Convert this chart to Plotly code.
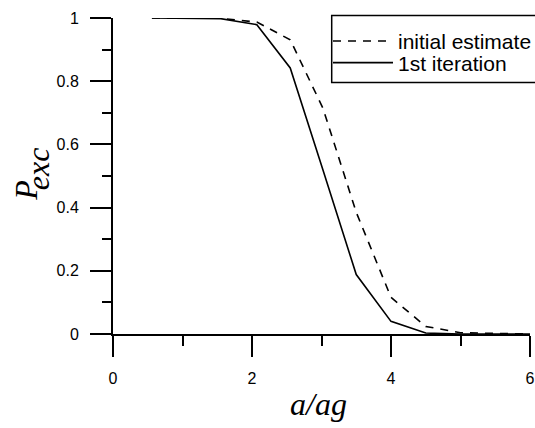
import plotly.graph_objects as go

# a/ag values
x_vals = [0.56, 1.05, 1.55, 2.07, 2.55, 3.02, 3.5, 4.0, 4.5, 5.0, 5.5, 6.0]
# P_exc, initial estimate (dashed)
initial_estimate = [1.0, 1.0, 0.999, 0.987, 0.931, 0.715, 0.385, 0.116, 0.024, 0.004, 0.001, 0.0]
# P_exc, 1st iteration (solid)
first_iteration = [1.0, 1.0, 0.998, 0.979, 0.842, 0.52, 0.188, 0.040, 0.003, 0.0, 0.0, 0.0]

series_names = ["initial estimate", "1st iteration"]
x_ticks = [0, 2, 4, 6]
y_ticks = [0, 0.2, 0.4, 0.6, 0.8, 1]
y_tick_labels = ["0", "0.2", "0.4", "0.6", "0.8", "1"]

fig = go.Figure()
fig.add_trace(go.Scatter(x=x_vals, y=initial_estimate, mode="lines", name=series_names[0],
                         line=dict(color="black", width=1.6, dash="8px,7px"), legend="legend"))
fig.add_trace(go.Scatter(x=x_vals, y=first_iteration, mode="lines", name=series_names[1],
                         line=dict(color="black", width=1.6), legend="legend2"))

axis_common = dict(showline=True, linecolor="black", linewidth=2, ticks="outside",
                   tickcolor="black", tickwidth=2, ticklen=21, showgrid=False, zeroline=False,
                   ticklabeloverflow="allow",
                   tickfont=dict(family="Liberation Sans, Arial", size=16, color="black"))

fig.update_xaxes(range=[0, 6], tickvals=x_ticks, ticklabelstandoff=8,
                 minor=dict(dtick=1, ticklen=10, tickwidth=2, tickcolor="black", ticks="outside"),
                 **axis_common)
fig.update_yaxes(range=[0, 1], tickvals=y_ticks, ticktext=y_tick_labels, ticklabelstandoff=8,
                 minor=dict(dtick=0.1, ticklen=9, tickwidth=2, tickcolor="black", ticks="outside"),
                 **axis_common)

W, H = 535, 428
plot_left, plot_right, plot_top, plot_bottom = 113, 530, 18.3, 334.3
L, R, T, B = plot_left, W - plot_right, plot_top, H - plot_bottom
pw, ph = plot_right - plot_left, plot_bottom - plot_top

def px_x(p):
    return (p - plot_left) / pw

def px_y(p):
    return (plot_bottom - p) / ph

title_font = dict(family="Liberation Serif, Times New Roman", size=32, color="black")
fig.add_annotation(text="<i>a/ag</i>", x=px_x(318), y=px_y(404), xref="paper", yref="paper",
                   showarrow=False, font=title_font, xanchor="center", yanchor="middle")
fig.add_annotation(text="<i>P</i>", x=px_x(26), y=px_y(191), xref="paper", yref="paper",
                   showarrow=False, font=title_font, textangle=-90, xanchor="center", yanchor="middle")
fig.add_annotation(text="<i>exc</i>", x=px_x(37.5), y=px_y(169), xref="paper", yref="paper",
                   showarrow=False, font=title_font, textangle=-90, xanchor="center", yanchor="middle")

# legend frame (its right side runs past the page edge, as in the reference)
fig.add_shape(type="rect", xref="paper", yref="paper",
              x0=px_x(331.7), x1=px_x(560), y0=px_y(82.7), y1=px_y(15.7),
              line=dict(color="black", width=1.5), fillcolor="white", layer="above")

legend_font = dict(family="Liberation Sans, Arial", size=21, color="black")
fig.update_layout(
    width=W, height=H,
    margin=dict(l=L, r=R, t=T, b=B, autoexpand=False),
    plot_bgcolor="white", paper_bgcolor="white",
    showlegend=True,
    legend=dict(x=px_x(328), y=px_y(41.7), xanchor="left", yanchor="middle",
                borderwidth=0, bgcolor="rgba(0,0,0,0)", font=legend_font, itemwidth=60),
    legend2=dict(x=px_x(328), y=px_y(63.3), xanchor="left", yanchor="middle",
                 borderwidth=0, bgcolor="rgba(0,0,0,0)", font=legend_font, itemwidth=60),
)

fig.write_html("out.html", config={"displayModeBar": False},
               post_script="document.body.style.margin='0px';document.body.style.overflow='hidden';")
